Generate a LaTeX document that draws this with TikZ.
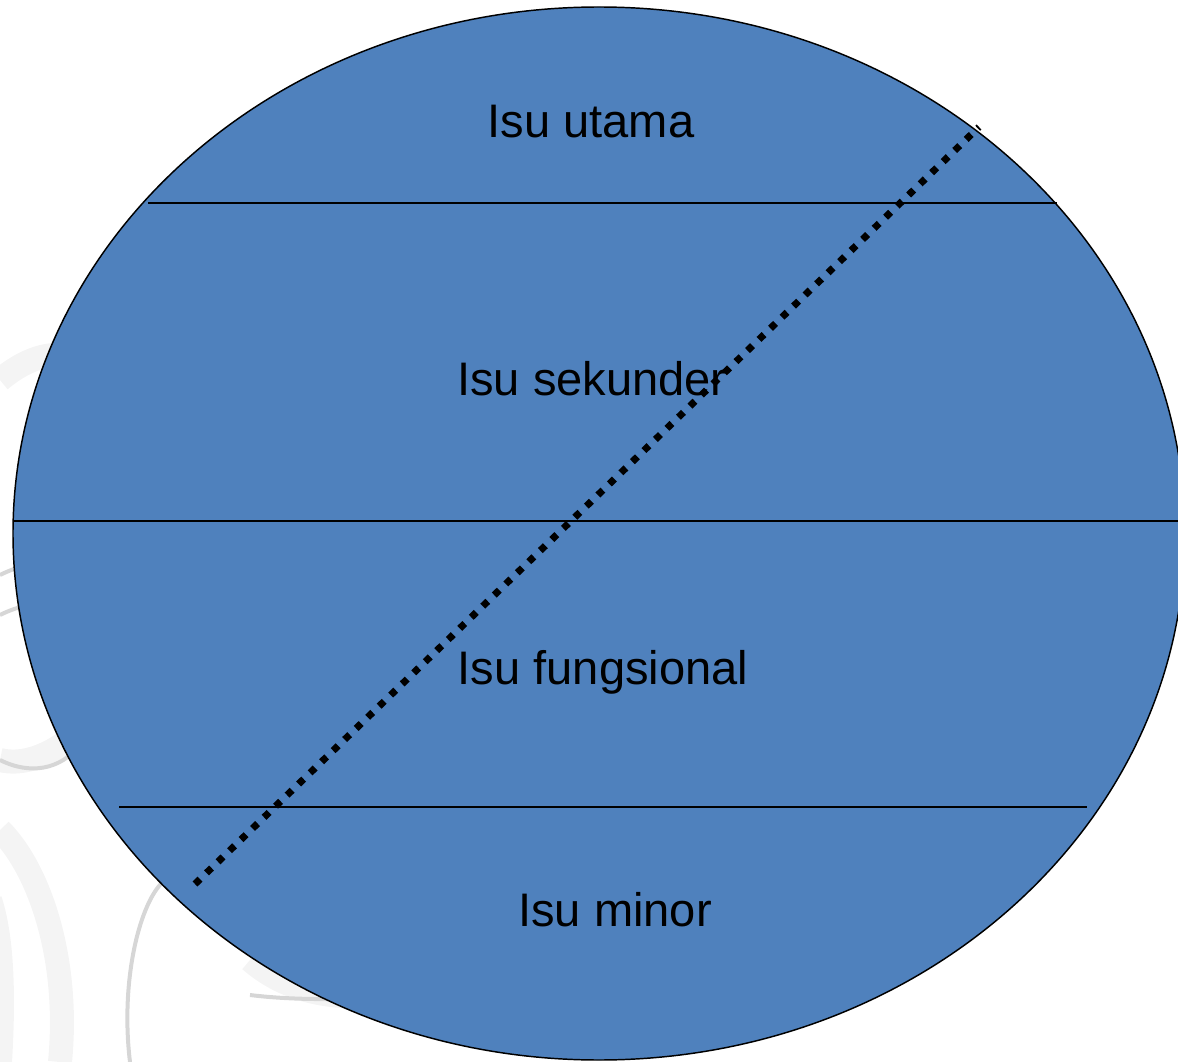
\documentclass[tikz,border=0pt]{standalone}
\usepackage{fontspec}
\setmainfont{Liberation Sans}
\definecolor{discblue}{HTML}{4F81BD}
\definecolor{swirl}{HTML}{F4F4F4}
\definecolor{swirledge}{HTML}{D6D6D6}
\tikzset{
  divider/.style={draw=black, line width=1.3pt},
  dotline/.style={draw=black, line width=5.25pt, dash pattern=on 5.25pt off 6.75pt},
  label/.style={anchor=base, inner sep=0pt, font=\fontsize{35.3}{42}\selectfont},
  swirlband/.style={draw=swirl, line width=18pt},
  swirlrim/.style={draw=swirledge, line width=3pt},
}
\begin{document}
\begin{tikzpicture}[x=0.75pt, y=-0.75pt]
\useasboundingbox (0,0) rectangle (1178,1062);
\begin{scope}
\clip (0,0) rectangle (1178,1062);
% faint background swirls
\draw[swirlband] (0,380) .. controls (60,330) and (110,360) .. (120,420);
\draw[swirlrim] (0,575) .. controls (40,555) and (80,560) .. (100,580);
\draw[swirlrim] (0,615) .. controls (30,600) and (60,600) .. (80,610);
\draw[swirlband] (0,760) .. controls (40,770) and (90,730) .. (100,700);
\draw[swirlrim] (0,760) .. controls (30,775) and (60,770) .. (80,745);
\draw[swirlband] (0,1062) .. controls (5,980) and (0,930) .. (-10,900);
\draw[swirlband] (60,1062) .. controls (70,960) and (40,870) .. (0,830);
\draw[swirlrim] (130,1062) .. controls (120,980) and (140,900) .. (165,880);
\draw[swirlband] (250,960) .. controls (290,995) and (340,1000) .. (390,995);
\draw[swirlrim] (250,995) .. controls (290,1000) and (340,1000) .. (375,997);
% the disc
\path[fill=discblue, draw=black, line width=1.1pt] (599,533.5) ellipse [x radius=586, y radius=526.5];
\coordinate (d1a) at (148,203);
\coordinate (d1b) at (1057,203);
\coordinate (d2a) at (13,521);
\coordinate (d2b) at (1178,521);
\coordinate (d3a) at (119,807);
\coordinate (d3b) at (1087,807);
\draw[divider] (d1a) -- (d1b);
\draw[divider] (d2a) -- (d2b);
\draw[divider] (d3a) -- (d3b);
\node[label] (utama) at (591,138) {Isu utama};
\node[label] (sekunder) at (592,396) {Isu sekunder};
\node[label] (fungsional) at (603,684) {Isu fungsional};
\node[label] (minor) at (615,926) {Isu minor};
\coordinate (dotlow) at (195,884);
\coordinate (dothigh) at (979,127);
\draw[dotline] (dotlow) -- (dothigh);
\end{scope}
\end{tikzpicture}
\end{document}
